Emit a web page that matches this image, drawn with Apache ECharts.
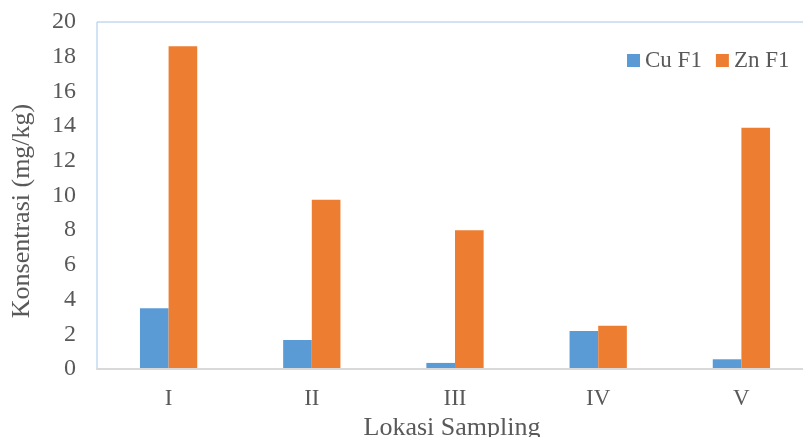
<!DOCTYPE html>
<html>
<head>
<meta charset="utf-8">
<script src="https://cdn.jsdelivr.net/npm/echarts@6/dist/echarts.min.js"></script>
<style>html,body{margin:0;padding:0;background:#fff;}#c{width:803px;height:437px;}</style>
</head>
<body>
<div id="c"></div>
<script>
const categories = ['I', 'II', 'III', 'IV', 'V'];
const cuF1 = [3.5, 1.67, 0.35, 2.19, 0.56];
const znF1 = [18.6, 9.75, 8.0, 2.5, 13.9];
const yTicks = {min: 0, max: 20, interval: 2};

const font = '"Liberation Serif", "Times New Roman", serif';
const txt = '#595959';
const chart = echarts.init(document.getElementById('c'));
chart.setOption({
  animation: false,
  textStyle: {fontFamily: font},
  grid: {left: 97, top: 22, width: 716, height: 347, containLabel: false, outerBoundsMode: 'none',
         show: true, borderColor: '#A3C6E9', borderWidth: 1, backgroundColor: 'transparent'},
  legend: {
    left: 627, top: 49, padding: 0, itemWidth: 13, itemHeight: 13, itemGap: 14,
    icon: 'rect',
    textStyle: {fontFamily: font, fontSize: 23, color: txt},
    data: ['Cu F1', 'Zn F1']
  },
  xAxis: {
    type: 'category', data: categories, z: 10,
    axisLine: {lineStyle: {color: '#D9D9D9', width: 2}},
    axisTick: {show: false},
    axisLabel: {fontFamily: font, fontSize: 23, color: txt, margin: 18},
    name: 'Lokasi Sampling', nameLocation: 'middle', nameGap: 44,
    nameTextStyle: {fontFamily: font, fontSize: 26, color: txt, padding: [0, 6, 0, 0]}
  },
  yAxis: {
    type: 'value', min: yTicks.min, max: yTicks.max, interval: yTicks.interval,
    axisLine: {show: false}, axisTick: {show: false}, splitLine: {show: false},
    axisLabel: {fontFamily: font, fontSize: 24, color: txt, margin: 21},
    name: 'Konsentrasi (mg/kg)', nameLocation: 'middle', nameGap: 62,
    nameTextStyle: {fontFamily: font, fontSize: 26, color: txt, padding: [0, 0, 0, -31]}
  },
  series: [
    {name: 'Cu F1', type: 'bar', data: cuF1, barWidth: '20%', barGap: '0%', itemStyle: {color: '#5B9BD5'}},
    {name: 'Zn F1', type: 'bar', data: znF1, barWidth: '20%', barGap: '0%', itemStyle: {color: '#ED7D31'}}
  ]
});
</script>
</body>
</html>
